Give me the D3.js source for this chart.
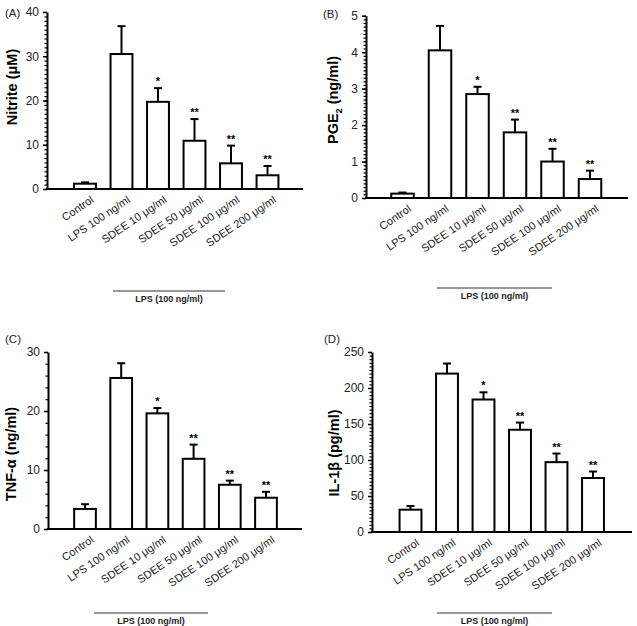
<!DOCTYPE html>
<html>
<head>
<meta charset="utf-8">
<script src="https://cdn.jsdelivr.net/npm/d3@7"></script>
<style>
  body { margin: 0; background: #fff; }
  svg { display: block; font-family: Arial, "Liberation Sans", sans-serif; }
</style>
</head>
<body>
<svg id="chart" width="637" height="626"></svg>
<script>
// categories shared by every panel
var categories = ["Control", "LPS 100 ng/ml", "SDEE 10 \u03bcg/ml", "SDEE 50 \u03bcg/ml",
                  "SDEE 100 \u03bcg/ml", "SDEE 200 \u03bcg/ml"];
var stars = ["", "", "*", "**", "**", "**"];

// (A) nitrite
var nitriteMean = [1.2, 30.5, 19.7, 10.9, 5.8, 3.1];
var nitriteErr  = [0.3, 6.3, 3.1, 4.9, 4.0, 2.1];
var nitriteTicks = [0, 10, 20, 30, 40];

// (B) PGE2
var pgeMean = [0.12, 4.05, 2.85, 1.80, 1.00, 0.52];
var pgeErr  = [0.03, 0.67, 0.20, 0.35, 0.35, 0.23];
var pgeTicks = [0, 1, 2, 3, 4, 5];

// (C) TNF-alpha
var tnfMean = [3.4, 25.6, 19.6, 11.9, 7.5, 5.3];
var tnfErr  = [0.8, 2.5, 0.9, 2.4, 0.7, 1.0];
var tnfTicks = [0, 10, 20, 30];

// (D) IL-1beta
var ilMean = [31, 220, 184, 142, 97, 75];
var ilErr  = [5, 14, 10, 10, 12, 9];
var ilTicks = [0, 50, 100, 150, 200, 250];

var groupLabel = "LPS (100 ng/ml)";

var svg = d3.select("#chart");

function drawPanel(o) {
  var g = svg.append("g");
  var y = d3.scaleLinear().domain([0, o.max]).range([o.y0, o.yTop]);
  var x = d3.scaleBand().domain(categories)
    .range([o.c0 - 0.7 * o.step, o.c0 + 5.7 * o.step])
    .paddingInner(0.4).paddingOuter(0.4);

  // y axis with minor ticks
  var minor = d3.range(0, o.max + o.minorStep / 2, o.minorStep);
  g.append("g").attr("transform", "translate(" + o.ax + ",0)")
    .call(d3.axisLeft(y).tickValues(minor).tickSize(2.5).tickFormat(""))
    .call(function (s) { s.select(".domain").remove(); s.selectAll("line").attr("stroke-width", 1.2); });
  var ya = g.append("g").attr("transform", "translate(" + o.ax + ",0)")
    .call(d3.axisLeft(y).tickValues(o.ticks).tickFormat(d3.format("~g"))
      .tickSize(4).tickPadding(4).tickSizeOuter(0));
  ya.select(".domain").attr("stroke-width", 2);
  ya.selectAll(".tick line").attr("stroke-width", 1.5);
  ya.selectAll("text").attr("font-size", 12).attr("fill", "#222")
    .attr("font-family", "Arial, 'Liberation Sans', sans-serif");

  // x axis line
  g.append("line").attr("x1", o.ax - 1).attr("x2", o.xEnd)
    .attr("y1", y(0)).attr("y2", y(0)).attr("stroke", "#000").attr("stroke-width", 2);

  var rows = categories.map(function (c, i) {
    return { c: c, m: o.mean[i], e: o.err[i], s: stars[i] };
  });

  // error bars (upper only)
  var eb = g.selectAll(".eb").data(rows).enter().append("g");
  eb.append("line")
    .attr("x1", function (d) { return x(d.c) + x.bandwidth() / 2; })
    .attr("x2", function (d) { return x(d.c) + x.bandwidth() / 2; })
    .attr("y1", function (d) { return y(d.m); })
    .attr("y2", function (d) { return y(d.m + d.e); })
    .attr("stroke", "#000").attr("stroke-width", 2);
  eb.append("line")
    .attr("x1", function (d) { return x(d.c) + x.bandwidth() / 2 - 4; })
    .attr("x2", function (d) { return x(d.c) + x.bandwidth() / 2 + 4; })
    .attr("y1", function (d) { return y(d.m + d.e); })
    .attr("y2", function (d) { return y(d.m + d.e); })
    .attr("stroke", "#000").attr("stroke-width", 2);

  // bars
  g.selectAll(".bar").data(rows).enter().append("rect")
    .attr("x", function (d) { return x(d.c); })
    .attr("width", x.bandwidth())
    .attr("y", function (d) { return y(d.m); })
    .attr("height", function (d) { return y(0) - y(d.m); })
    .attr("fill", "#fff").attr("stroke", "#000").attr("stroke-width", 2);

  // significance stars
  g.selectAll(".star").data(rows).enter().append("text")
    .attr("x", function (d) { return x(d.c) + x.bandwidth() / 2; })
    .attr("y", function (d) { return y(d.m + d.e) - 3; })
    .attr("text-anchor", "middle").attr("font-size", 11).attr("font-weight", "bold")
    .text(function (d) { return d.s; });

  // rotated category labels
  g.selectAll(".cat").data(categories).enter().append("text")
    .attr("transform", function (d) {
      return "translate(" + (x(d) + x.bandwidth() / 2 + 5) + "," + (y(0) + 6) + ") rotate(-34)";
    })
    .attr("text-anchor", "end").attr("dy", "0.72em").attr("font-size", 11).attr("fill", "#222")
    .text(function (d) { return d; });

  // y label
  var yl = g.append("text")
    .attr("transform", "translate(" + o.ylx + "," + o.yly + ") rotate(-90)")
    .attr("text-anchor", "middle").attr("font-size", 14.5).attr("font-weight", "bold");
  o.ylabel(yl);

  // panel letter
  g.append("text").attr("x", o.lx).attr("y", o.ly).attr("font-size", 11.5).attr("fill", "#222")
    .text(o.letter);

  // LPS group line
  g.append("line").attr("x1", o.gx1).attr("x2", o.gx2).attr("y1", o.gy).attr("y2", o.gy)
    .attr("stroke", "#333").attr("stroke-width", 1.2);
  g.append("text").attr("x", (o.gx1 + o.gx2) / 2).attr("y", o.gy + 11)
    .attr("text-anchor", "middle").attr("font-size", 9).attr("font-weight", "bold")
    .attr("fill", "#222").text(groupLabel);
}

drawPanel({
  letter: "(A)", lx: 5, ly: 17, mean: nitriteMean, err: nitriteErr, ticks: nitriteTicks,
  max: 40, minorStep: 1, ax: 47, xEnd: 303, yTop: 12, y0: 189, c0: 85, step: 36.5,
  ylx: 17, yly: 87, gx1: 113, gx2: 225, gy: 291,
  ylabel: function (t) { t.text("Nitrite (\u03bcM)"); }
});
drawPanel({
  letter: "(B)", lx: 323, ly: 18, mean: pgeMean, err: pgeErr, ticks: pgeTicks,
  max: 5, minorStep: 0.1, ax: 366, xEnd: 628, yTop: 15.7, y0: 198, c0: 402.5, step: 37.5,
  ylx: 338, yly: 100, gx1: 437, gx2: 552, gy: 288,
  ylabel: function (t) {
    t.append("tspan").text("PGE");
    t.append("tspan").attr("font-size", 9).attr("dy", 4).text("2");
    t.append("tspan").attr("dy", -4).text(" (ng/ml)");
  }
});
drawPanel({
  letter: "(C)", lx: 5, ly: 343, mean: tnfMean, err: tnfErr, ticks: tnfTicks,
  max: 30, minorStep: 2, ax: 48, xEnd: 302, yTop: 352, y0: 529, c0: 85, step: 36.2,
  ylx: 16, yly: 454, gx1: 94, gx2: 208, gy: 613,
  ylabel: function (t) { t.text("TNF-\u03b1 (ng/ml)"); }
});
drawPanel({
  letter: "(D)", lx: 324, ly: 343, mean: ilMean, err: ilErr, ticks: ilTicks,
  max: 250, minorStep: 5, ax: 372, xEnd: 632, yTop: 352, y0: 532, c0: 410.5, step: 36.5,
  ylx: 339, yly: 453, gx1: 437, gx2: 552, gy: 613,
  ylabel: function (t) { t.text("IL-1\u03b2 (pg/ml)"); }
});
</script>
</body>
</html>
